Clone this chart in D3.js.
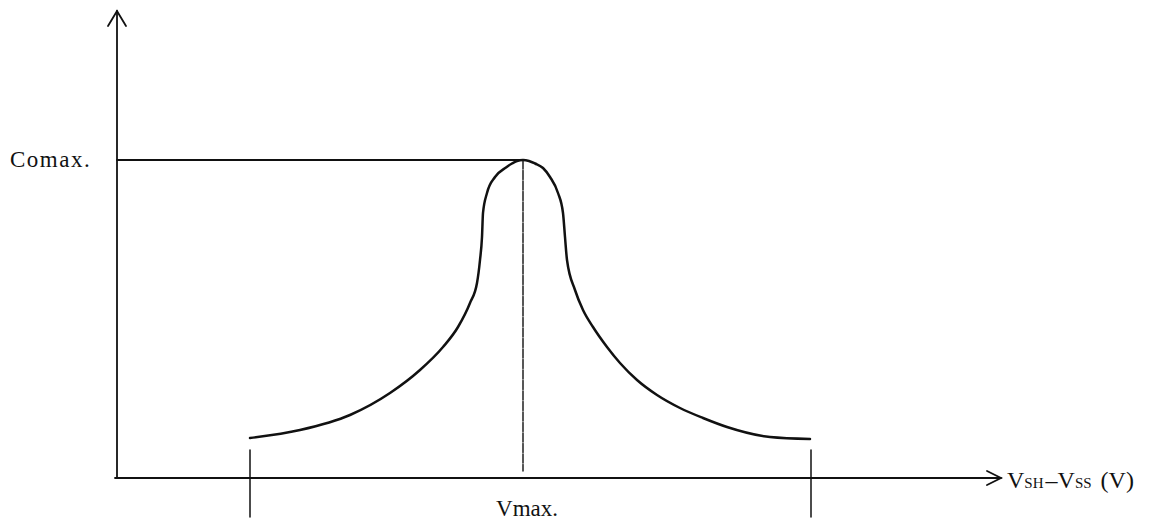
<!DOCTYPE html>
<html>
<head>
<meta charset="utf-8">
<script src="https://cdn.jsdelivr.net/npm/d3@7"></script>
<style>
  body { margin: 0; background: #fff; }
  svg { display: block; }
  text { font-family: "Liberation Serif", "DejaVu Serif", serif; fill: #111; }
</style>
</head>
<body>
<div id="chart"></div>
<script>
// curve (arbitrary units, origin at axes corner)
var curveX = [13.3, 18.3, 23.3, 27.3, 30.3, 32.6, 34.1, 35.3, 36.0, 36.3, 36.5, 36.6, 37.0, 37.8, 38.9, 39.5, 40.0, 40.6,
              41.2, 41.8, 42.6, 43.3, 44.1, 44.6, 44.8, 45.0, 45.8, 46.6, 47.6, 49.0, 50.3, 52.0, 54.0, 56.3, 58.6, 61.0, 65.3, 69.3];
var curveY = [4.0, 4.8, 6.3, 8.5, 10.8, 13.1, 15.1, 17.5, 19.5, 21.8, 24.1, 26.5, 28.5, 30.1, 31.05, 31.45, 31.7, 31.8,
              31.7, 31.45, 31.0, 30.1, 28.5, 26.5, 24.1, 21.8, 18.8, 16.8, 15.1, 13.1, 11.5, 9.8, 8.3, 7.0, 6.0, 5.1, 4.1, 3.9];

var peakX = 40.6;      // Vmax.
var peakY = 31.8;      // Comax.
var limitsX = [13.3, 69.4];  // range marks at the curve ends
var limitTop = 2.8, limitBottom = -3.9;
var markerBottom = 0.7;

var xMax = 88.4, yMax = 46.5;

var yLabel = "Comax.";
var xTickLabel = "Vmax.";

var width = 1170, height = 520;
var origin = {x: 117, y: 478};

var x = d3.scaleLinear().domain([0, xMax]).range([origin.x, origin.x + xMax * 10]);
var y = d3.scaleLinear().domain([0, yMax]).range([origin.y, origin.y - yMax * 10]);

var svg = d3.select("#chart").append("svg")
    .attr("width", width)
    .attr("height", height);

var g = svg.append("g")
    .attr("fill", "none")
    .attr("stroke", "#111")
    .attr("stroke-linecap", "round");

// y axis with open arrow
g.append("line")
  .attr("x1", x(0)).attr("y1", y(0))
  .attr("x2", x(0)).attr("y2", y(yMax) - 2)
  .attr("stroke-width", 1.8);
g.append("path")
  .attr("d", "M" + (x(0) - 9) + "," + (y(yMax) + 13) + "L" + x(0) + "," + (y(yMax) - 2) + "L" + (x(0) + 9) + "," + (y(yMax) + 13))
  .attr("stroke-width", 1.8);

// x axis with open arrow
g.append("line")
  .attr("x1", x(0) - 2).attr("y1", y(0))
  .attr("x2", x(xMax)).attr("y2", y(0))
  .attr("stroke-width", 1.8);
g.append("path")
  .attr("d", "M" + (x(xMax) - 14) + "," + (y(0) - 7) + "L" + x(xMax) + "," + y(0) + "L" + (x(xMax) - 14) + "," + (y(0) + 7))
  .attr("stroke-width", 1.8);

// Comax. level line
g.append("line")
  .attr("x1", x(0)).attr("y1", y(peakY))
  .attr("x2", x(peakX)).attr("y2", y(peakY))
  .attr("stroke-width", 1.8);

// Vmax. marker (thin, broken)
g.append("line")
  .attr("x1", x(peakX)).attr("y1", y(peakY))
  .attr("x2", x(peakX)).attr("y2", y(markerBottom))
  .attr("stroke-width", 1.4)
  .attr("stroke-dasharray", "9,1.5");

// range marks
g.selectAll(".limit").data(limitsX).enter().append("line")
  .attr("class", "limit")
  .attr("x1", function(d) { return x(d); })
  .attr("x2", function(d) { return x(d); })
  .attr("y1", y(limitTop))
  .attr("y2", y(limitBottom))
  .attr("stroke-width", 1.5);

// the curve
var pts = curveX.map(function(d, i) { return [d, curveY[i]]; });
var line = d3.line()
  .x(function(d) { return x(d[0]); })
  .y(function(d) { return y(d[1]); })
  .curve(d3.curveMonotoneX);

g.append("path")
  .datum(pts)
  .attr("d", line)
  .attr("stroke-width", 2.5);

// labels
svg.append("text")
  .attr("x", 10)
  .attr("y", y(peakY) + 7)
  .attr("font-size", 23)
  .attr("letter-spacing", 1.5)
  .text(yLabel);

svg.append("text")
  .attr("x", x(peakX) + 4)
  .attr("y", 516)
  .attr("text-anchor", "middle")
  .attr("font-size", 23)
  .text(xTickLabel);

var xl = svg.append("text")
  .attr("x", x(xMax) + 6)
  .attr("y", y(0) + 10)
  .attr("font-size", 24);
xl.append("tspan").text("V");
xl.append("tspan").attr("font-size", 15).text("SH");
xl.append("tspan").attr("dx", 2).text("\u2013");
xl.append("tspan").text("V");
xl.append("tspan").attr("font-size", 15).text("SS");
xl.append("tspan").attr("dx", 3).text(" (V)");
</script>
</body>
</html>
